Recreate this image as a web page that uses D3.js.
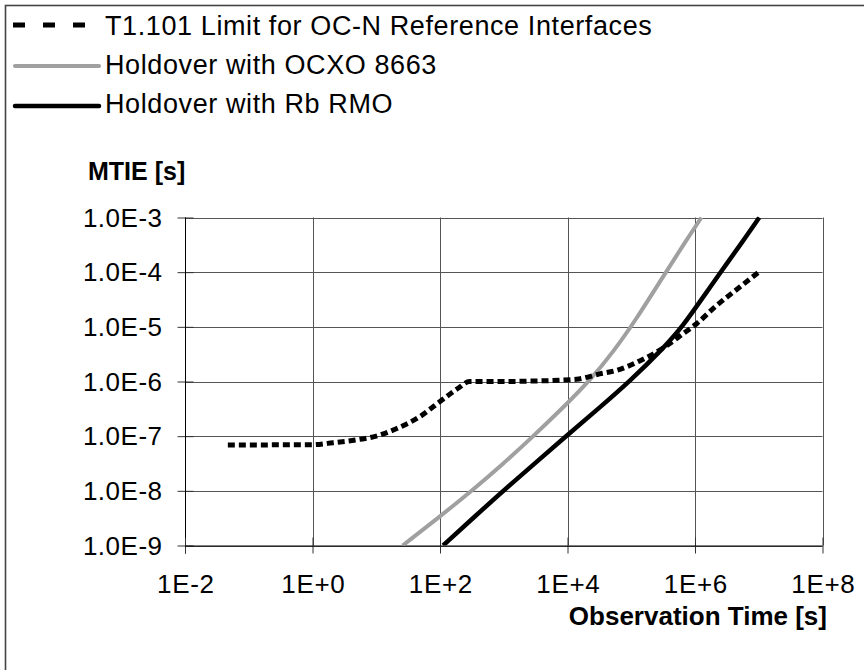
<!DOCTYPE html>
<html>
<head>
<meta charset="utf-8">
<script src="https://cdn.jsdelivr.net/npm/d3@7"></script>
<style>
  html, body { margin: 0; padding: 0; background: #fff; }
  svg { display: block; font-family: "Liberation Sans", Arial, sans-serif; }
</style>
</head>
<body>
<svg id="chart" width="864" height="670"></svg>
<script>
// ---- data ----
const seriesNames = [
  "T1.101 Limit for OC-N Reference Interfaces",
  "Holdover with OCXO 8663",
  "Holdover with Rb RMO"
];
// T1.101 limit
const limitTau  = [0.047, 1, 2.1, 5, 10, 21, 49, 100, 195, 290, 1000, 3000, 13800, 32000, 59000, 138000, 316000, 660000, 1070000, 2040000, 5100000, 10000000];
const limitMtie = [6.9e-8, 7.0e-8, 7.6e-8, 8.6e-8, 1.0e-7, 1.38e-7, 2.3e-7, 4.3e-7, 7.6e-7, 1.0e-6, 1.0e-6, 1.02e-6, 1.1e-6, 1.38e-6, 1.6e-6, 2.4e-6, 4.1e-6, 7.6e-6, 1.15e-5, 2.3e-5, 5.4e-5, 1.0e-4];
// OCXO 8663 holdover
const ocxoTau  = [26, 100, 331, 1000, 2570, 10000, 22400, 52500, 120000, 316000, 661000, 1260000];
const ocxoMtie = [1.0e-9, 3.4e-9, 1.05e-8, 3.2e-8, 8.7e-8, 4.0e-7, 1.05e-6, 3.5e-6, 1.38e-5, 8.3e-5, 3.2e-4, 1.0e-3];
// Rb RMO holdover
const rbTau  = [112, 331, 1410, 10000, 31600, 95500, 316000, 661000, 1350000, 2750000, 5750000, 10200000];
const rbMtie = [1.0e-9, 3.2e-9, 1.45e-8, 1.05e-7, 3.3e-7, 1.02e-6, 4.0e-6, 1.07e-5, 3.55e-5, 1.15e-4, 3.8e-4, 1.0e-3];

// axis ticks
const xTicks = [1e-2, 1e0, 1e2, 1e4, 1e6, 1e8];
const xTickLabels = ["1E-2", "1E+0", "1E+2", "1E+4", "1E+6", "1E+8"];
const yTicks = [1e-9, 1e-8, 1e-7, 1e-6, 1e-5, 1e-4, 1e-3];
const yTickLabels = ["1.0E-9", "1.0E-8", "1.0E-7", "1.0E-6", "1.0E-5", "1.0E-4", "1.0E-3"];
const xTitle = "Observation Time [s]";
const yTitle = "MTIE [s]";

// ---- layout ----
const svg = d3.select("#chart");
const plot = { left: 185, right: 822.5, top: 217.5, bottom: 545.5 };

const x = d3.scaleLog().domain([1e-2, 1e8]).range([plot.left, plot.right]);
const y = d3.scaleLog().domain([1e-9, 1e-3]).range([plot.bottom, plot.top]);

svg.append("rect").attr("width", 864).attr("height", 670).attr("fill", "#fff");

// outer frame (continues past the right/bottom edge)
svg.append("rect")
  .attr("x", 5.5).attr("y", 5.5).attr("width", 900).attr("height", 700)
  .attr("fill", "none").attr("stroke", "#444").attr("stroke-width", 1.6);

// grid
const grid = svg.append("g");
grid.selectAll("line.h").data(yTicks).join("line")
  .attr("x1", plot.left).attr("x2", plot.right)
  .attr("y1", d => Math.round(y(d)) + 0.5).attr("y2", d => Math.round(y(d)) + 0.5)
  .attr("stroke", "#555").attr("stroke-width", 1);
grid.selectAll("line.v").data(xTicks).join("line")
  .attr("x1", d => Math.round(x(d)) + 0.5).attr("x2", d => Math.round(x(d)) + 0.5)
  .attr("y1", plot.top).attr("y2", plot.bottom)
  .attr("stroke", "#555").attr("stroke-width", 1);

// axes (cross ticks)
const yAxis = d3.axisLeft(y).tickValues(yTicks).tickSize(8).tickPadding(15)
  .tickFormat((d, i) => yTickLabels[i]);
const gy = svg.append("g").attr("transform", `translate(${plot.left + 0.5},0)`).call(yAxis);
gy.select(".domain").remove();
gy.append("line").attr("x1", 0).attr("x2", 0)
  .attr("y1", plot.top).attr("y2", plot.bottom + 8).attr("stroke", "#000");
gy.selectAll(".tick line").attr("x1", 8).attr("x2", -8).attr("stroke", "#333");
gy.selectAll(".tick text")
  .attr("x", -23).attr("dy", "0.33em")
  .style("font-size", "26px").style("letter-spacing", "0.5px")
  .style("font-family", "'Liberation Sans', Arial, sans-serif").attr("fill", "#000");

const xAxis = d3.axisBottom(x).tickValues(xTicks).tickSize(8).tickPadding(22)
  .tickFormat((d, i) => xTickLabels[i]);
const gx = svg.append("g").attr("transform", `translate(0,${plot.bottom})`).call(xAxis);
gx.select(".domain").remove();
gx.append("line").attr("x1", plot.left).attr("x2", plot.right)
  .attr("y1", 0.5).attr("y2", 0.5).attr("stroke", "#000");
gx.selectAll(".tick line").attr("y1", -8).attr("y2", 8).attr("stroke", "#333");
gx.selectAll(".tick text")
  .attr("y", 47.5).attr("dy", 0).attr("dx", "0.35px")
  .style("font-size", "26px").style("letter-spacing", "0.7px")
  .style("font-family", "'Liberation Sans', Arial, sans-serif").attr("fill", "#000");

// titles
svg.append("text").attr("x", 88).attr("y", 180).text(yTitle)
  .style("font-size", "25px").style("font-weight", "bold");
svg.append("text").attr("x", 827).attr("y", 625).attr("text-anchor", "end").text(xTitle)
  .style("font-size", "26px").style("font-weight", "bold");

// curves
svg.append("clipPath").attr("id", "clip").append("rect")
  .attr("x", plot.left).attr("y", plot.top - 1)
  .attr("width", plot.right - plot.left + 3).attr("height", plot.bottom - plot.top + 1);

const smooth = d3.line().x(d => x(d[0])).y(d => y(d[1])).curve(d3.curveBasis);
const mono = d3.line().x(d => x(d[0])).y(d => y(d[1])).curve(d3.curveMonotoneX);
const curves = svg.append("g").attr("clip-path", "url(#clip)");

curves.append("path")
  .attr("d", smooth(ocxoTau.map((t, i) => [t, ocxoMtie[i]])))
  .attr("fill", "none").attr("stroke", "#a0a0a0").attr("stroke-width", 4);
curves.append("path")
  .attr("d", smooth(rbTau.map((t, i) => [t, rbMtie[i]])))
  .attr("fill", "none").attr("stroke", "#000").attr("stroke-width", 4.5);
curves.append("path")
  .attr("d", mono(limitTau.map((t, i) => [t, limitMtie[i]])))
  .attr("fill", "none").attr("stroke", "#000").attr("stroke-width", 5)
  .attr("stroke-dasharray", "7,4");

// legend
const legend = svg.append("g");
const legY = [25, 66, 106];
const legBase = [35, 74, 113];
legend.append("line").attr("x1", 13).attr("x2", 86).attr("y1", legY[0]).attr("y2", legY[0])
  .attr("stroke", "#000").attr("stroke-width", 5).attr("stroke-dasharray", "12,18");
legend.append("line").attr("x1", 15).attr("x2", 99).attr("y1", legY[1]).attr("y2", legY[1])
  .attr("stroke", "#a0a0a0").attr("stroke-width", 4).attr("stroke-linecap", "round");
legend.append("line").attr("x1", 15).attr("x2", 99).attr("y1", legY[2]).attr("y2", legY[2])
  .attr("stroke", "#000").attr("stroke-width", 4.5).attr("stroke-linecap", "round");
legend.selectAll("text").data(seriesNames).join("text")
  .attr("x", 105).attr("y", (d, i) => legBase[i])
  .text(d => d)
  .style("font-size", "27px").style("letter-spacing", "0.6px");
</script>
</body>
</html>
